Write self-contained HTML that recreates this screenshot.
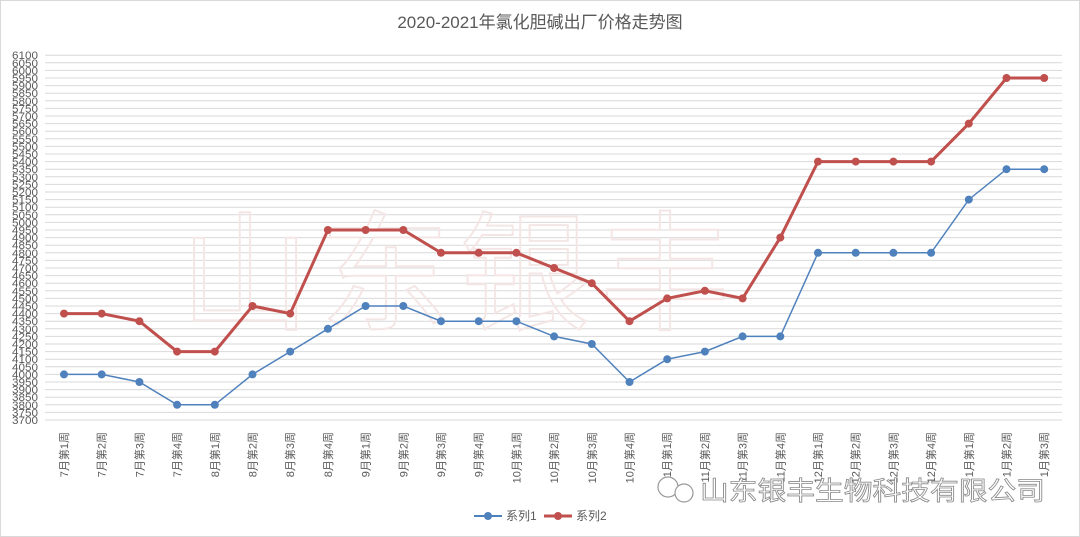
<!DOCTYPE html>
<html><head><meta charset="utf-8"><style>body{margin:0;background:#fff}svg{display:block}</style></head>
<body>
<svg id="s" width="1080" height="537" xmlns="http://www.w3.org/2000/svg" font-family="Liberation Sans, Noto Sans CJK SC, sans-serif">
<rect x="0.5" y="0.5" width="1079" height="536" fill="#fff" stroke="#d9d9d9"/>
<text x="540" y="28" text-anchor="middle" font-size="17" fill="#595959">2020-2021年氯化胆碱出厂价格走势图</text>
<g id="grid"></g>
<text x="180" y="320" font-size="130" fill="none" stroke="#f5e6e6" stroke-width="2" letter-spacing="10">山东银丰</text>
<g id="ser"></g>
<g id="xl" font-size="11" fill="#595959"></g>
<circle cx="668" cy="487" r="10" fill="#fff" stroke="#999" stroke-width="1.2"/>
<circle cx="684" cy="493" r="9" fill="#fff" stroke="#999" stroke-width="1.2"/>
<text x="700" y="500" font-size="26" fill="#ffffff" stroke="#8a8a8a" stroke-width="0.8" textLength="345" lengthAdjust="spacingAndGlyphs">山东银丰生物科技有限公司</text>
<g font-size="12" fill="#595959">
<line x1="474" y1="516" x2="502" y2="516" stroke="#4f81bd" stroke-width="2"/><circle cx="488" cy="516" r="4" fill="#4f81bd"/><text x="506" y="520">系列1</text>
<line x1="544" y1="516" x2="572" y2="516" stroke="#c0504d" stroke-width="3"/><circle cx="558" cy="516" r="4" fill="#c0504d"/><text x="576" y="520">系列2</text>
</g>
</svg>
<script>
const NS="http://www.w3.org/2000/svg";
function el(p,t,a,txt){const e=document.createElementNS(NS,t);for(const k in a)e.setAttribute(k,a[k]);if(txt!==undefined)e.textContent=txt;document.getElementById(p).appendChild(e);return e;}
const y=v=>420-(v-3700)/50*7.6, x=i=>64+i*37.7;
for(let v=3700;v<=6100;v+=50){el("grid","line",{x1:45,x2:1062,y1:y(v),y2:y(v),stroke:"#d9d9d9","stroke-width":1});
el("grid","text",{x:38,y:y(v)+4,"text-anchor":"end","font-size":11,fill:"#595959",textLength:26,lengthAdjust:"spacingAndGlyphs"},v);}
const s1=[4000,4000,3950,3800,3800,4000,4150,4300,4450,4450,4350,4350,4350,4250,4200,3950,4100,4150,4250,4250,4800,4800,4800,4800,5150,5350,5350];
const s2=[4400,4400,4350,4150,4150,4450,4400,4950,4950,4950,4800,4800,4800,4700,4600,4350,4500,4550,4500,4900,5400,5400,5400,5400,5650,5950,5950];
[[s1,"#4f81bd",1.5],[s2,"#c0504d",3]].forEach(([d,c,w])=>{
el("ser","polyline",{points:d.map((v,i)=>x(i)+","+y(v)).join(" "),fill:"none",stroke:c,"stroke-width":w});
d.forEach((v,i)=>el("ser","circle",{cx:x(i),cy:y(v),r:4,fill:c}));});
const m=["7","8","9","10","11","12","1"];let lab=[];
m.forEach(mm=>{for(let k=1;k<=4;k++)lab.push(mm+"月第"+k+"周");});
lab=lab.slice(0,27);
lab.forEach((t,i)=>{const xx=x(i)+4;el("xl","text",{x:xx,y:432,transform:`rotate(-90 ${xx} 432)`,"text-anchor":"end"},t);});
</script>
</body></html>
